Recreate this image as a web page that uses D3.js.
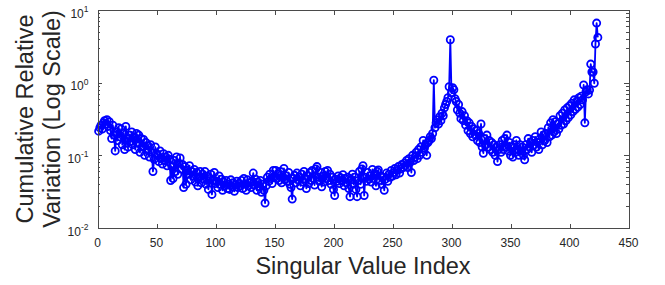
<!DOCTYPE html>
<html lang="en">
<head>
    <meta charset="UTF-8">
    <title>Cumulative Relative Variation</title>
    <style>
        body, html {
            margin: 0;
            padding: 0;
            width: 100%;
            height: 100%;
            overflow: hidden;
            background: #fff;
        }
        svg {
            display: block;
        }
        text {
            font-family: "Liberation Sans", Arial, Helvetica, sans-serif;
            fill: #262626;
        }
    </style>
</head>
<body>
    <script src="https://d3js.org/d3.v7.min.js"></script>
    <script>
        // Values, singular value index 1..424
        var variation = [
            0.215, 0.24, 0.26, 0.23, 0.28, 0.30, 0.27, 0.31, 0.25, 0.29,
            0.22, 0.17, 0.26, 0.19, 0.115, 0.21, 0.16, 0.24, 0.18, 0.23,
            0.14, 0.20, 0.12, 0.25, 0.17, 0.13, 0.19, 0.155, 0.21, 0.14,
            0.18, 0.12, 0.20, 0.15, 0.19, 0.11, 0.17, 0.13, 0.165, 0.10,
            0.15, 0.12, 0.135, 0.095, 0.14, 0.11, 0.06, 0.088, 0.13, 0.105,
            0.10, 0.082, 0.115, 0.09, 0.076, 0.105, 0.085, 0.095, 0.072, 0.10,
            0.088, 0.045, 0.07, 0.048, 0.085, 0.06, 0.095, 0.055, 0.078, 0.092,
            0.065, 0.075, 0.036, 0.07, 0.04, 0.062, 0.055, 0.072, 0.046, 0.06,
            0.052, 0.064, 0.043, 0.058, 0.038, 0.05, 0.06, 0.042, 0.055, 0.047,
            0.06, 0.04, 0.052, 0.034, 0.048, 0.055, 0.029, 0.045, 0.058, 0.041,
            0.044, 0.036, 0.052, 0.04, 0.047, 0.033, 0.043, 0.038, 0.045, 0.035,
            0.04, 0.034, 0.046, 0.037, 0.042, 0.032, 0.039, 0.044, 0.036, 0.041,
            0.038, 0.045, 0.035, 0.048, 0.04, 0.033, 0.046, 0.038, 0.042, 0.036,
            0.044, 0.057, 0.039, 0.047, 0.033, 0.043, 0.037, 0.045, 0.031, 0.040,
            0.033, 0.022, 0.038, 0.05, 0.044, 0.055, 0.048, 0.041, 0.062, 0.05,
            0.062, 0.048, 0.055, 0.045, 0.06, 0.042, 0.05, 0.066, 0.046, 0.052,
            0.044, 0.058, 0.04, 0.036, 0.025, 0.048, 0.053, 0.042, 0.057, 0.046,
            0.05, 0.038, 0.055, 0.043, 0.06, 0.047, 0.035, 0.052, 0.041, 0.058,
            0.045, 0.062, 0.048, 0.039, 0.065, 0.07, 0.05, 0.044, 0.058, 0.037,
            0.052, 0.043, 0.06, 0.048, 0.062, 0.045, 0.055, 0.04, 0.05, 0.034,
            0.028, 0.047, 0.044, 0.052, 0.041, 0.049, 0.045, 0.054, 0.038, 0.048,
            0.042, 0.05, 0.035, 0.027, 0.046, 0.055, 0.04, 0.05, 0.034, 0.027,
            0.045, 0.06, 0.04, 0.065, 0.072, 0.028, 0.05, 0.044, 0.058, 0.047,
            0.052, 0.043, 0.064, 0.048, 0.055, 0.038, 0.06, 0.063, 0.045, 0.052,
            0.04, 0.05, 0.033, 0.047, 0.057, 0.044, 0.055, 0.05, 0.062, 0.052,
            0.058, 0.066, 0.054, 0.062, 0.07, 0.057, 0.065, 0.075, 0.068, 0.078,
            0.072, 0.085, 0.068, 0.09, 0.08, 0.058, 0.1, 0.085, 0.095, 0.11,
            0.09, 0.12, 0.1, 0.13, 0.11, 0.16, 0.125, 0.14, 0.1, 0.15,
            0.16, 0.18, 0.17, 0.2, 1.08, 0.24, 0.28, 0.31, 0.27, 0.34,
            0.3, 0.38, 0.35, 0.45, 0.5, 0.55, 0.62, 0.88, 3.9, 0.72,
            0.85, 0.8, 0.6, 0.55, 0.42, 0.5, 0.38, 0.32, 0.4, 0.3,
            0.35, 0.26, 0.3, 0.22, 0.28, 0.2, 0.25, 0.18, 0.23, 0.19,
            0.22, 0.16, 0.2, 0.15, 0.27, 0.13, 0.107, 0.17, 0.14, 0.19,
            0.13, 0.16, 0.12, 0.15, 0.11, 0.14, 0.1, 0.13, 0.082, 0.12,
            0.14, 0.11, 0.16, 0.12, 0.17, 0.13, 0.19, 0.115, 0.15, 0.1,
            0.13, 0.095, 0.14, 0.11, 0.16, 0.12, 0.1, 0.14, 0.115, 0.13,
            0.1, 0.087, 0.14, 0.12, 0.17, 0.13, 0.15, 0.11, 0.16, 0.14,
            0.18, 0.13, 0.15, 0.12, 0.17, 0.21, 0.14, 0.19, 0.16, 0.2,
            0.15, 0.24, 0.18, 0.28, 0.19, 0.31, 0.21, 0.29, 0.2, 0.27,
            0.23, 0.35, 0.26, 0.38, 0.27, 0.42, 0.3, 0.45, 0.33, 0.48,
            0.36, 0.52, 0.4, 0.58, 0.43, 0.55, 0.46, 0.62, 0.5, 0.65,
            0.58, 0.93, 0.28, 0.75, 0.8, 0.7, 0.79, 1.8, 1.4, 1.4,
            0.98, 3.4, 6.6, 4.2
        ];

        var xTicks = [0, 50, 100, 150, 200, 250, 300, 350, 400, 450];
        var yTickExponents = [-2, -1, 0, 1];

        var width = 665, height = 285;
        var plotLeft = 97.5, plotRight = 628.5, plotTop = 10, plotBottom = 228;
        var axisColor = "#4a4a4a";

        var svg = d3.select("body").append("svg")
            .attr("width", width)
            .attr("height", height);

        var x = d3.scaleLinear().domain([0, 450]).range([plotLeft, plotRight]);
        var y = d3.scaleLog().domain([0.01, 10]).range([plotBottom, plotTop]);

        var points = variation.map(function(v, i) { return { idx: i + 1, v: v }; });

        // data line and markers
        var line = d3.line()
            .x(function(d) { return x(d.idx); })
            .y(function(d) { return y(d.v); });

        svg.append("path")
            .datum(points)
            .attr("d", line)
            .attr("fill", "none")
            .attr("stroke", "#0000ff")
            .attr("stroke-width", 1.8)
            .attr("stroke-linejoin", "round");

        svg.append("g")
            .selectAll("circle")
            .data(points)
            .enter()
            .append("circle")
            .attr("cx", function(d) { return x(d.idx); })
            .attr("cy", function(d) { return y(d.v); })
            .attr("r", 3.6)
            .attr("fill", "none")
            .attr("stroke", "#0000ff")
            .attr("stroke-width", 1.8);

        // minor log ticks
        var minor = [];
        yTickExponents.slice(0, 3).forEach(function(e) {
            for (var k = 2; k <= 9; k++) minor.push(k * Math.pow(10, e));
        });
        var major = yTickExponents.map(function(e) { return Math.pow(10, e); });

        function styleAxis(g) {
            g.selectAll("path, line").attr("stroke", axisColor).attr("shape-rendering", "crispEdges");
            g.selectAll("text").remove();
        }

        svg.append("g").attr("transform", "translate(0," + plotBottom + ")")
            .call(d3.axisBottom(x).tickValues(xTicks).tickSizeInner(-4.5).tickSizeOuter(0))
            .call(styleAxis);
        svg.append("g").attr("transform", "translate(0," + plotTop + ")")
            .call(d3.axisTop(x).tickValues(xTicks).tickSizeInner(-4.5).tickSizeOuter(0))
            .call(styleAxis);
        svg.append("g").attr("transform", "translate(" + plotLeft + ",0)")
            .call(d3.axisLeft(y).tickValues(major).tickSizeInner(-4.5).tickSizeOuter(0))
            .call(styleAxis);
        svg.append("g").attr("transform", "translate(" + plotRight + ",0)")
            .call(d3.axisRight(y).tickValues(major).tickSizeInner(-4.5).tickSizeOuter(0))
            .call(styleAxis);
        svg.append("g").attr("transform", "translate(" + plotLeft + ",0)")
            .call(d3.axisLeft(y).tickValues(minor).tickSizeInner(-2.5).tickSizeOuter(0))
            .call(styleAxis);
        svg.append("g").attr("transform", "translate(" + plotRight + ",0)")
            .call(d3.axisRight(y).tickValues(minor).tickSizeInner(-2.5).tickSizeOuter(0))
            .call(styleAxis);

        // tick labels
        svg.append("g").selectAll("text")
            .data(xTicks)
            .enter()
            .append("text")
            .attr("x", function(d) { return x(d); })
            .attr("y", plotBottom + 18.5)
            .attr("text-anchor", "middle")
            .attr("font-size", "12px")
            .text(function(d) { return d; });

        var yl = svg.append("g").selectAll("text")
            .data(yTickExponents)
            .enter()
            .append("text")
            .attr("x", 88.5)
            .attr("y", function(d) { return y(Math.pow(10, d)) + 7.5; })
            .attr("text-anchor", "end")
            .attr("font-size", "12px");
        yl.append("tspan").text("10");
        yl.append("tspan")
            .attr("dy", -5.5)
            .attr("font-size", "8.5px")
            .text(function(d) { return d; });

        // axis titles
        svg.append("text")
            .attr("x", (plotLeft + plotRight) / 2)
            .attr("y", 274)
            .attr("text-anchor", "middle")
            .attr("font-size", "23.5px")
            .text("Singular Value Index");

        var ytitle = svg.append("text")
            .attr("transform", "translate(33," + ((plotTop + plotBottom) / 2) + ") rotate(-90)")
            .attr("text-anchor", "middle")
            .attr("font-size", "23.5px");
        ytitle.append("tspan").attr("x", 0).attr("y", 0).text("Cumulative Relative");
        ytitle.append("tspan").attr("x", 0).attr("y", 27).text("Variation (Log Scale)");
    </script>
</body>
</html>
